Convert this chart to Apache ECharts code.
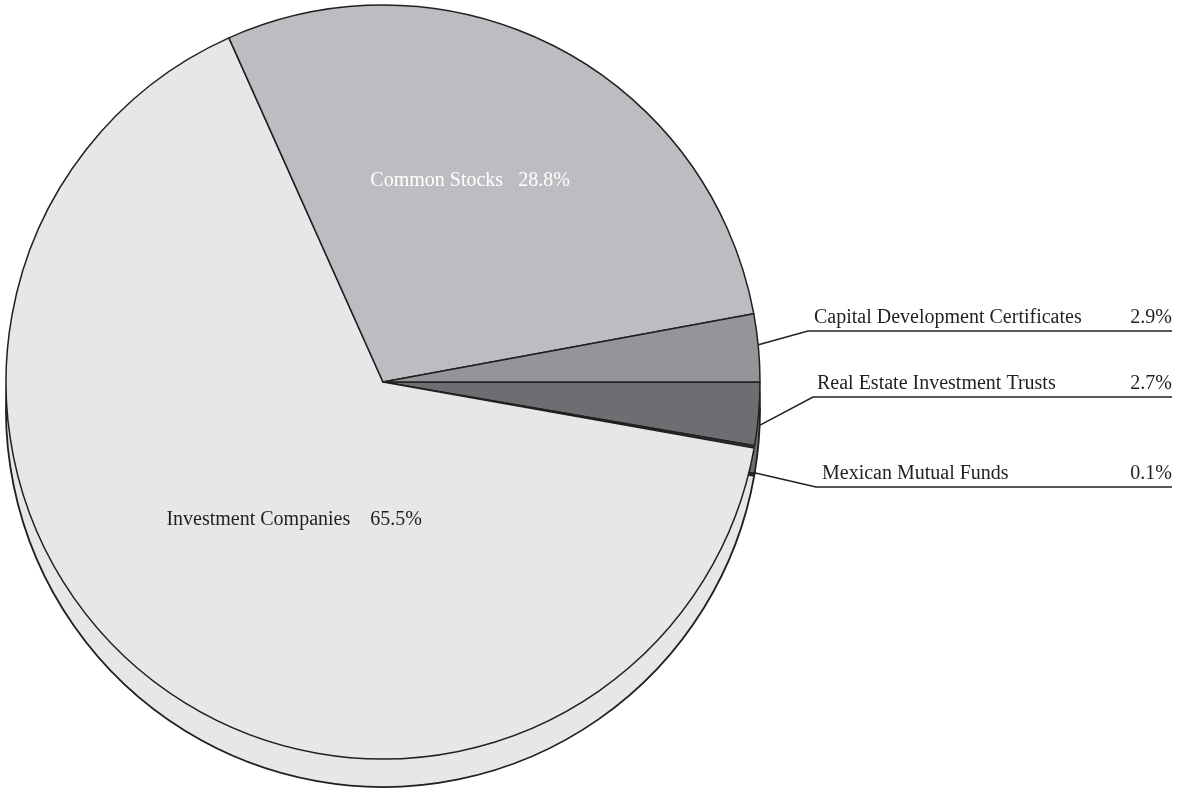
<!DOCTYPE html>
<html>
<head>
<meta charset="utf-8">
<script src="https://cdn.jsdelivr.net/npm/echarts@6/dist/echarts.min.js"></script>
<style>
  html, body { margin: 0; padding: 0; background: #ffffff; }
  #chart { width: 1186px; height: 789px; }
</style>
</head>
<body>
<div id="chart"></div>
<script>
// Portfolio breakdown by asset type (percent of net assets), clockwise from 3 o'clock
const categories = [
  'Real Estate Investment Trusts',
  'Mexican Mutual Funds',
  'Investment Companies',
  'Common Stocks',
  'Capital Development Certificates'
];
const shares = [2.7, 0.1, 65.5, 28.8, 2.9];
const sliceColors = ['#6d6e71', '#414042', '#e6e7e8', '#bcbdc0', '#939598'];

// --- presentation settings ---
const ink = '#231f20';
const font = '"Liberation Serif", "DejaVu Serif", serif';
const fontSize = 20;
const pieCenter = [383, 382];
const pieRadius = 377;
const depth = 28;               // thickness of the disc edge
const lineEndX = 1172;          // right end of the underline leaders

// Labels drawn inside their slice: nudge from the default mid-radius spot, gap before the percentage
const insideLabels = {
  'Common Stocks': { shift: [-2, -32], gap: 15, color: '#ffffff' },
  'Investment Companies': { shift: [29, -13], gap: 20, color: ink }
};
// Labels drawn to the right with an elbow leader that underlines the text
const outsideLabels = {
  'Capital Development Certificates': { bend: [808, 331], anchorDy: -3, textGap: 6 },
  'Real Estate Investment Trusts': { bend: [813, 397], anchorDy: 12, textGap: 4 },
  'Mexican Mutual Funds': { bend: [816, 487], anchorDy: 26, textGap: 6 }
};

const topData = categories.map((name, i) => {
  const item = { name: name, value: shares[i], itemStyle: { color: sliceColors[i] } };
  const inner = insideLabels[name];
  const outer = outsideLabels[name];
  if (inner) {
    item.label = {
      position: 'inside',
      color: inner.color,
      formatter: '{n|{b}}{p|{c}%}',
      rich: { n: { color: inner.color }, p: { color: inner.color, padding: [0, 0, 0, inner.gap] } }
    };
    item.labelLine = { show: false };
  } else if (outer) {
    const x0 = outer.bend[0] + outer.textGap;
    item.label = {
      position: 'outside',
      width: lineEndX - x0,
      formatter: '{n|{b}}{p|{c}%}',
      rich: { n: { align: 'left' }, p: { align: 'right' } }
    };
  }
  return item;
});

const sideData = categories.map((name, i) => ({
  name: name, value: shares[i], itemStyle: { color: sliceColors[i] }
}));

const chart = echarts.init(document.getElementById('chart'), null, { renderer: 'canvas' });

chart.setOption({
  animation: false,
  backgroundColor: '#ffffff',
  series: [
    {
      // the visible edge of the disc, drawn first so the top face covers it
      type: 'pie',
      silent: true,
      center: [pieCenter[0], pieCenter[1] + depth],
      radius: pieRadius,
      startAngle: 0,
      clockwise: true,
      label: { show: false },
      labelLine: { show: false },
      emphasis: { disabled: true },
      itemStyle: { borderColor: ink, borderWidth: 1.8 },
      data: sideData
    },
    {
      type: 'pie',
      silent: true,
      center: pieCenter,
      radius: pieRadius,
      startAngle: 0,
      clockwise: true,
      avoidLabelOverlap: false,
      emphasis: { disabled: true },
      itemStyle: { borderColor: ink, borderWidth: 1.5 },
      label: {
        show: true,
        fontFamily: font,
        fontSize: fontSize,
        color: ink
      },
      labelLine: {
        show: true,
        length: 12,
        length2: 12,
        lineStyle: { color: ink, width: 1.5 }
      },
      labelLayout: function (params) {
        const name = categories[params.dataIndex];
        const inner = insideLabels[name];
        if (inner) {
          return { dx: inner.shift[0], dy: inner.shift[1] };
        }
        const outer = outsideLabels[name];
        if (!outer || !params.labelLinePoints) return {};
        const p0 = params.labelLinePoints[0];
        return {
          x: outer.bend[0] + outer.textGap,
          y: outer.bend[1] - 13,
          align: 'left',
          verticalAlign: 'middle',
          labelLinePoints: [
            [p0[0], p0[1] + outer.anchorDy],
            [outer.bend[0], outer.bend[1]],
            [lineEndX, outer.bend[1]]
          ]
        };
      },
      data: topData
    }
  ]
});
</script>
</body>
</html>
